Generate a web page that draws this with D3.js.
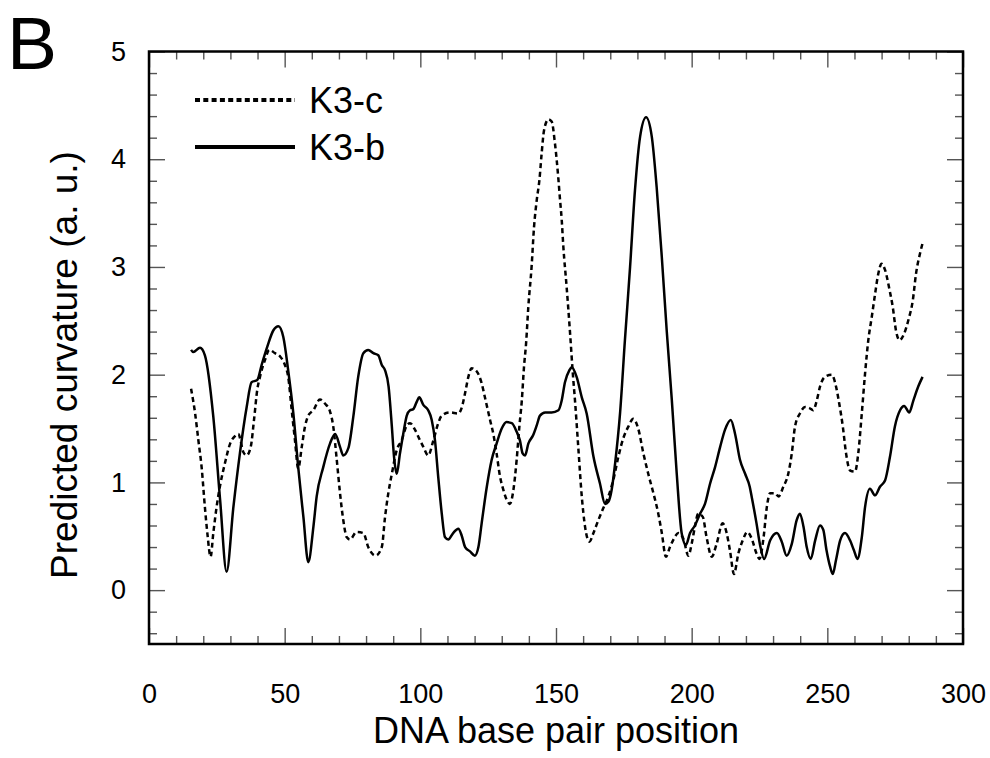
<!DOCTYPE html>
<html>
<head>
<meta charset="utf-8">
<script src="https://cdn.jsdelivr.net/npm/d3@7"></script>
<style>
  body { margin: 0; background: #fff; }
  svg { display: block; font-family: "Liberation Sans", Arial, sans-serif; }
</style>
</head>
<body>
<div id="chart"></div>
<script>
// K3-b (solid) curvature profile
const k3bPos = [15.5,16.3,18.8,20.6,23.7,26.2,28.6,31.1,33.5,36.0,37.8,39.9,41.5,43.6,45.8,47.7,49.5,51.3,53.2,55.0,
  56.9,58.7,60.6,61.8,64.2,66.7,68.6,70.4,71.6,73.5,75.3,77.1,79.0,80.8,82.7,84.5,85.8,87.0,88.3,89.5,
  90.3,91.3,92.5,93.7,95.0,96.2,97.4,98.7,99.6,101.1,102.9,104.2,105.4,106.6,107.9,109.1,110.3,112.1,114.0,115.2,
  116.5,118.3,120.1,121.4,122.6,124.5,126.3,128.1,130.0,131.8,133.7,135.5,136.7,137.7,138.6,139.8,141.6,142.9,144.1,146.0,
  148.4,150.9,152.1,153.3,154.9,155.8,157.6,159.5,161.3,163.8,166.2,168.1,169.3,170.5,171.8,173.6,175.4,177.3,179.1,181.0,
  183.2,185.3,187.1,189.0,190.8,192.7,194.5,196.3,197.9,199.4,201.2,203.1,204.9,206.8,208.6,210.5,212.3,214.4,216.0,217.8,
  219.7,221.4,222.1,223.9,225.2,226.7,228.9,231.4,233.2,235.0,236.9,238.7,239.9,241.2,242.4,243.9,245.5,247.3,248.5,249.7,
  251.0,252.0,253.2,254.7,256.5,258.4,259.8,261.1,262.7,263.9,265.7,267.6,269.4,271.3,273.1,274.9,276.8,278.3,280.2,281.7,
  283.5,285.1];
const k3bVal = [2.23,2.21,2.25,2.18,1.61,0.84,0.17,0.77,1.27,1.70,1.93,1.95,2.09,2.26,2.41,2.45,2.35,2.04,1.64,1.14,
  0.68,0.26,0.59,0.87,1.14,1.36,1.45,1.33,1.25,1.32,1.61,1.98,2.20,2.23,2.20,2.18,2.09,2.04,1.89,1.52,
  1.24,1.08,1.27,1.45,1.62,1.67,1.68,1.75,1.79,1.72,1.67,1.58,1.39,1.05,0.71,0.49,0.47,0.53,0.57,0.51,
  0.40,0.36,0.32,0.40,0.62,0.96,1.21,1.36,1.50,1.56,1.55,1.47,1.39,1.27,1.25,1.36,1.44,1.53,1.62,1.65,
  1.65,1.67,1.76,1.93,2.04,2.07,1.98,1.79,1.64,1.24,0.99,0.80,0.82,0.93,1.18,1.64,2.32,3.00,3.71,4.21,
  4.39,4.21,3.74,3.09,2.41,1.76,1.08,0.53,0.42,0.53,0.60,0.71,0.80,0.99,1.14,1.33,1.49,1.58,1.45,1.21,
  1.08,0.96,0.87,0.62,0.42,0.29,0.46,0.53,0.45,0.32,0.43,0.65,0.71,0.59,0.40,0.29,0.46,0.60,0.56,0.37,
  0.22,0.15,0.28,0.46,0.53,0.46,0.37,0.29,0.49,0.77,0.94,0.88,0.96,1.02,1.24,1.52,1.67,1.71,1.65,1.76,
  1.89,1.98];

// K3-c (dotted) curvature profile
const k3cPos = [15.5,17.0,18.2,19.4,20.6,21.5,22.7,23.7,24.9,26.2,28.0,29.9,31.7,32.9,34.8,36.0,37.5,38.7,39.9,40.9,
  42.8,44.3,46.4,48.3,50.1,51.3,52.6,53.8,55.0,56.3,57.5,58.7,60.6,63.0,64.9,66.7,67.9,69.2,70.4,71.6,
  72.9,74.1,76.5,79.0,80.8,83.5,85.8,87.0,88.2,89.5,91.3,93.1,95.0,96.2,98.0,99.9,101.1,102.9,104.8,106.6,
  107.9,110.9,114.0,115.2,116.5,117.7,118.9,120.8,122.6,123.8,125.7,126.9,128.1,129.4,130.6,131.8,133.0,134.3,135.5,136.5,
  137.4,138.2,139.0,139.8,141.0,141.9,142.9,143.9,144.7,145.6,147.2,148.4,149.6,150.9,151.5,152.1,152.7,153.9,155.2,156.2,
  157.0,158.2,159.5,160.7,162.3,163.8,165.6,167.4,169.3,171.1,173.0,174.8,176.7,178.5,180.3,182.2,184.0,185.9,187.7,189.0,
  190.5,192.0,193.5,195.1,196.9,198.8,200.0,201.2,202.4,204.1,205.5,207.4,209.2,211.4,212.9,214.1,215.6,217.2,218.8,220.5,
  222.1,223.9,225.0,226.5,227.7,228.9,230.7,232.0,233.8,235.6,236.9,238.1,239.9,241.8,243.4,244.8,246.1,247.3,249.1,251.6,
  253.2,254.4,255.7,256.9,258.4,260.2,261.4,262.7,263.9,265.1,266.4,267.6,268.8,270.0,271.3,272.9,274.1,275.3,276.6,278.3,
  279.9,281.5,282.7,284.2,285.1];
const k3cVal = [1.87,1.64,1.39,1.14,0.77,0.53,0.31,0.53,0.77,0.97,1.18,1.36,1.43,1.45,1.28,1.25,1.33,1.58,1.86,1.98,
  2.14,2.23,2.20,2.17,2.09,1.98,1.67,1.39,1.13,1.33,1.52,1.62,1.67,1.77,1.73,1.66,1.52,1.21,0.90,0.65,
  0.49,0.47,0.54,0.53,0.40,0.32,0.40,0.68,0.90,1.08,1.30,1.39,1.53,1.55,1.49,1.39,1.33,1.25,1.39,1.55,
  1.62,1.65,1.64,1.69,1.83,1.98,2.06,2.03,1.92,1.79,1.58,1.45,1.27,1.05,0.93,0.84,0.80,0.93,1.21,1.52,
  1.76,2.07,2.30,2.63,3.00,3.37,3.62,3.81,4.05,4.27,4.37,4.35,4.15,3.81,3.62,3.44,3.19,2.82,2.38,2.01,
  1.76,1.33,0.87,0.59,0.45,0.53,0.65,0.76,0.87,1.02,1.24,1.41,1.52,1.59,1.50,1.27,1.08,0.90,0.71,0.53,
  0.31,0.40,0.48,0.53,0.48,0.32,0.43,0.59,0.71,0.68,0.49,0.31,0.43,0.62,0.53,0.37,0.15,0.34,0.46,0.54,
  0.48,0.34,0.29,0.49,0.77,0.90,0.90,0.87,0.96,1.08,1.27,1.52,1.64,1.70,1.69,1.67,1.76,1.89,1.98,2.00,
  1.89,1.73,1.52,1.27,1.11,1.10,1.27,1.64,2.01,2.32,2.54,2.75,2.94,3.03,2.97,2.79,2.63,2.41,2.32,2.38,
  2.51,2.69,2.94,3.13,3.22];

const xMajor = [0, 50, 100, 150, 200, 250, 300];
const yMajor = [0, 1, 2, 3, 4, 5];
const seriesNames = ["K3-c", "K3-b"];

const margin = { top: 51.5, right: 27, bottom: 114, left: 149 },
    width = 990 - margin.left - margin.right,
    height = 758 - margin.top - margin.bottom;

const root = d3.select("#chart")
    .append("svg")
    .attr("width", 990)
    .attr("height", 758);

const svg = root.append("g")
    .attr("transform", `translate(${margin.left},${margin.top})`);

const x = d3.scaleLinear().domain([0, 300]).range([0, width]);
const y = d3.scaleLinear().domain([-0.5, 5]).range([height, 0]);

const xMinor = d3.range(0, 301, 10).filter(v => v % 50 !== 0);
const yMinor = d3.range(-0.4, 5, 0.2).map(v => +v.toFixed(1)).filter(v => Math.abs(v - Math.round(v)) > 0.01);

// inward ticks on all four sides
const tickStyle = g => {
    g.select(".domain").remove();
    g.selectAll(".tick line").attr("stroke", "#555").attr("stroke-width", 1.4);
};
const addTicks = (axisFn, vals, size, transform) => {
    svg.append("g")
        .attr("transform", transform)
        .call(axisFn.tickValues(vals).tickSize(-size).tickFormat(""))
        .call(tickStyle);
};
addTicks(d3.axisBottom(x), xMinor, 8, `translate(0,${height})`);
addTicks(d3.axisBottom(x), xMajor, 16, `translate(0,${height})`);
addTicks(d3.axisTop(x), xMinor, 8, "translate(0,0)");
addTicks(d3.axisTop(x), xMajor, 16, "translate(0,0)");
addTicks(d3.axisLeft(y), yMinor, 8, "translate(0,0)");
addTicks(d3.axisLeft(y), yMajor, 16, "translate(0,0)");
addTicks(d3.axisRight(y), yMinor, 8, `translate(${width},0)`);
addTicks(d3.axisRight(y), yMajor, 16, `translate(${width},0)`);

// tick labels
svg.append("g")
    .attr("transform", `translate(0,${height})`)
    .call(d3.axisBottom(x).tickValues(xMajor).tickSize(0).tickPadding(40).tickFormat(d3.format("d")))
    .call(g => g.select(".domain").remove())
    .selectAll("text")
    .attr("font-size", 27).attr("font-family", "Liberation Sans, Arial, sans-serif").attr("fill", "#000");

svg.append("g")
    .call(d3.axisLeft(y).tickValues(yMajor).tickSize(0).tickPadding(23).tickFormat(d3.format("d")))
    .call(g => g.select(".domain").remove())
    .selectAll("text")
    .attr("font-size", 27).attr("font-family", "Liberation Sans, Arial, sans-serif").attr("fill", "#000");

// frame
svg.append("rect")
    .attr("width", width)
    .attr("height", height)
    .attr("fill", "none")
    .attr("stroke", "#000")
    .attr("stroke-width", 2.5);

// lines
const line = d3.line()
    .x(d => x(d[0]))
    .y(d => y(d[1]))
    .curve(d3.curveMonotoneX);

svg.append("path")
    .datum(d3.zip(k3cPos, k3cVal))
    .attr("fill", "none")
    .attr("stroke", "#000")
    .attr("stroke-width", 2.5)
    .attr("stroke-dasharray", "5,3.5")
    .attr("d", line);

svg.append("path")
    .datum(d3.zip(k3bPos, k3bVal))
    .attr("fill", "none")
    .attr("stroke", "#000")
    .attr("stroke-width", 2.5)
    .attr("stroke-linejoin", "round")
    .attr("d", line);

// legend
const legend = root.append("g");
seriesNames.forEach((name, i) => {
    const ly = 100 + i * 47;
    legend.append("line")
        .attr("x1", 195).attr("x2", 295)
        .attr("y1", ly).attr("y2", ly)
        .attr("stroke", "#000")
        .attr("stroke-width", 4)
        .attr("stroke-dasharray", i === 0 ? "5,3.3" : null);
    legend.append("text")
        .attr("x", 309)
        .attr("y", ly + 12.5)
        .attr("font-size", 36)
        .text(name);
});

// axis titles
root.append("text")
    .attr("x", margin.left + width / 2)
    .attr("y", 743)
    .attr("text-anchor", "middle")
    .attr("font-size", 36)
    .text("DNA base pair position");

root.append("text")
    .attr("transform", "translate(77,365) rotate(-90)")
    .attr("text-anchor", "middle")
    .attr("font-size", 37)
    .text("Predicted curvature (a. u.)");

// panel letter
root.append("text")
    .attr("x", 7)
    .attr("y", 69)
    .attr("font-size", 75)
    .text("B");
</script>
</body>
</html>
